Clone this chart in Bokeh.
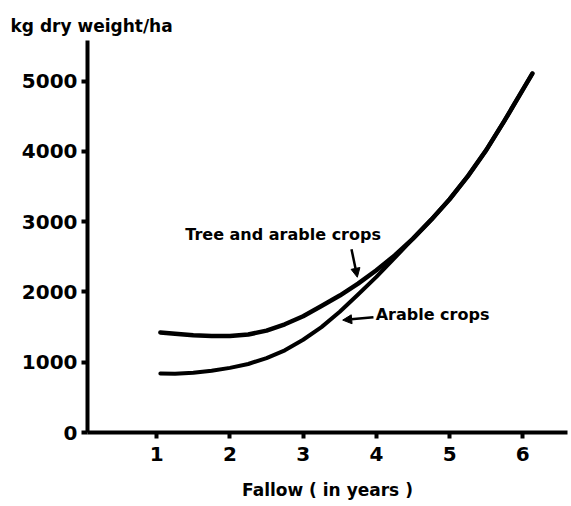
from bokeh.plotting import figure
from bokeh.models import Range1d, FixedTicker, Title, Label, Arrow, NormalHead
from bokeh.embed import file_html
from bokeh.resources import INLINE

# Data
tree_x = [1.05, 1.25, 1.5, 1.75, 2.0, 2.25, 2.5, 2.75, 3.0, 3.25, 3.5, 3.75, 4.0, 4.25,
          4.5, 4.75, 5.0, 5.25, 5.5, 5.75, 6.0, 6.13]
tree_y = [1425, 1405, 1385, 1372, 1372, 1395, 1450, 1540, 1655, 1800, 1950, 2120, 2310, 2520,
          2760, 3030, 3320, 3650, 4020, 4440, 4880, 5110]
arable_x = [1.05, 1.25, 1.5, 1.75, 2.0, 2.25, 2.5, 2.75, 3.0, 3.25, 3.5, 3.75, 4.0, 4.25,
            4.5, 4.75, 5.0, 5.25, 5.5, 5.75, 6.0, 6.13]
arable_y = [840, 838, 850, 880, 920, 975, 1060, 1170, 1320, 1500, 1720, 1965, 2215, 2485,
            2760, 3030, 3320, 3650, 4020, 4440, 4880, 5110]
x_ticks = [1, 2, 3, 4, 5, 6]
y_ticks = [0, 1000, 2000, 3000, 4000, 5000]
tree_label = "Tree and arable crops"
arable_label = "Arable crops"
y_title = "kg dry weight/ha"
x_title = "Fallow ( in years )"

FONT = "DejaVu Sans"

p = figure(width=570, height=505, output_backend="svg", toolbar_location=None,
           x_range=Range1d(0.055, 6.61), y_range=Range1d(0, 5580),
           min_border_left=87, min_border_right=3, min_border_top=40, min_border_bottom=73)
p.outline_line_color = None
p.grid.visible = False
p.background_fill_color = "white"

for ax in (p.xaxis[0], p.yaxis[0]):
    ax.axis_line_width = 4
    ax.axis_line_color = "black"
    ax.major_tick_line_width = 4
    ax.major_tick_in = 0
    ax.major_tick_out = 6
    ax.minor_tick_line_color = None
    ax.major_label_text_font = FONT
    ax.major_label_text_font_style = "bold"
    ax.major_label_text_font_size = "20px"
    ax.major_label_text_color = "black"

p.xaxis[0].ticker = FixedTicker(ticks=x_ticks)
p.yaxis[0].ticker = FixedTicker(ticks=y_ticks)
p.xaxis[0].major_label_standoff = 8
p.yaxis[0].major_label_standoff = 4
p.xaxis[0].axis_label = x_title
p.xaxis[0].axis_label_text_font = FONT
p.xaxis[0].axis_label_text_font_style = "bold"
p.xaxis[0].axis_label_text_font_size = "17px"
p.xaxis[0].axis_label_text_color = "black"
p.xaxis[0].axis_label_standoff = 16

p.add_layout(Title(text=y_title, align="left", offset=-77, text_font=FONT, text_color="black",
                   text_font_style="bold", text_font_size="17px"), "above")

p.line(tree_x, tree_y, line_width=4.5, line_color="black", line_cap="round", line_join="round")
p.line(arable_x, arable_y, line_width=4, line_color="black", line_cap="round", line_join="round")

p.add_layout(Label(x=1.39, y=2820, text=tree_label, text_font=FONT, text_font_style="bold",
                   text_color="black", text_font_size="16px", text_baseline="middle"))
p.add_layout(Label(x=3.99, y=1680, text=arable_label, text_font=FONT, text_font_style="bold",
                   text_color="black", text_font_size="16px", text_baseline="middle"))

p.add_layout(Arrow(x_start=3.66, y_start=2610, x_end=3.74, y_end=2210, line_width=2.5,
                   end=NormalHead(size=9, fill_color="black", line_color="black")))
p.add_layout(Arrow(x_start=3.96, y_start=1640, x_end=3.54, y_end=1600, line_width=2.5,
                   end=NormalHead(size=9, fill_color="black", line_color="black")))

open("out.html", "w").write(file_html(p, INLINE))
